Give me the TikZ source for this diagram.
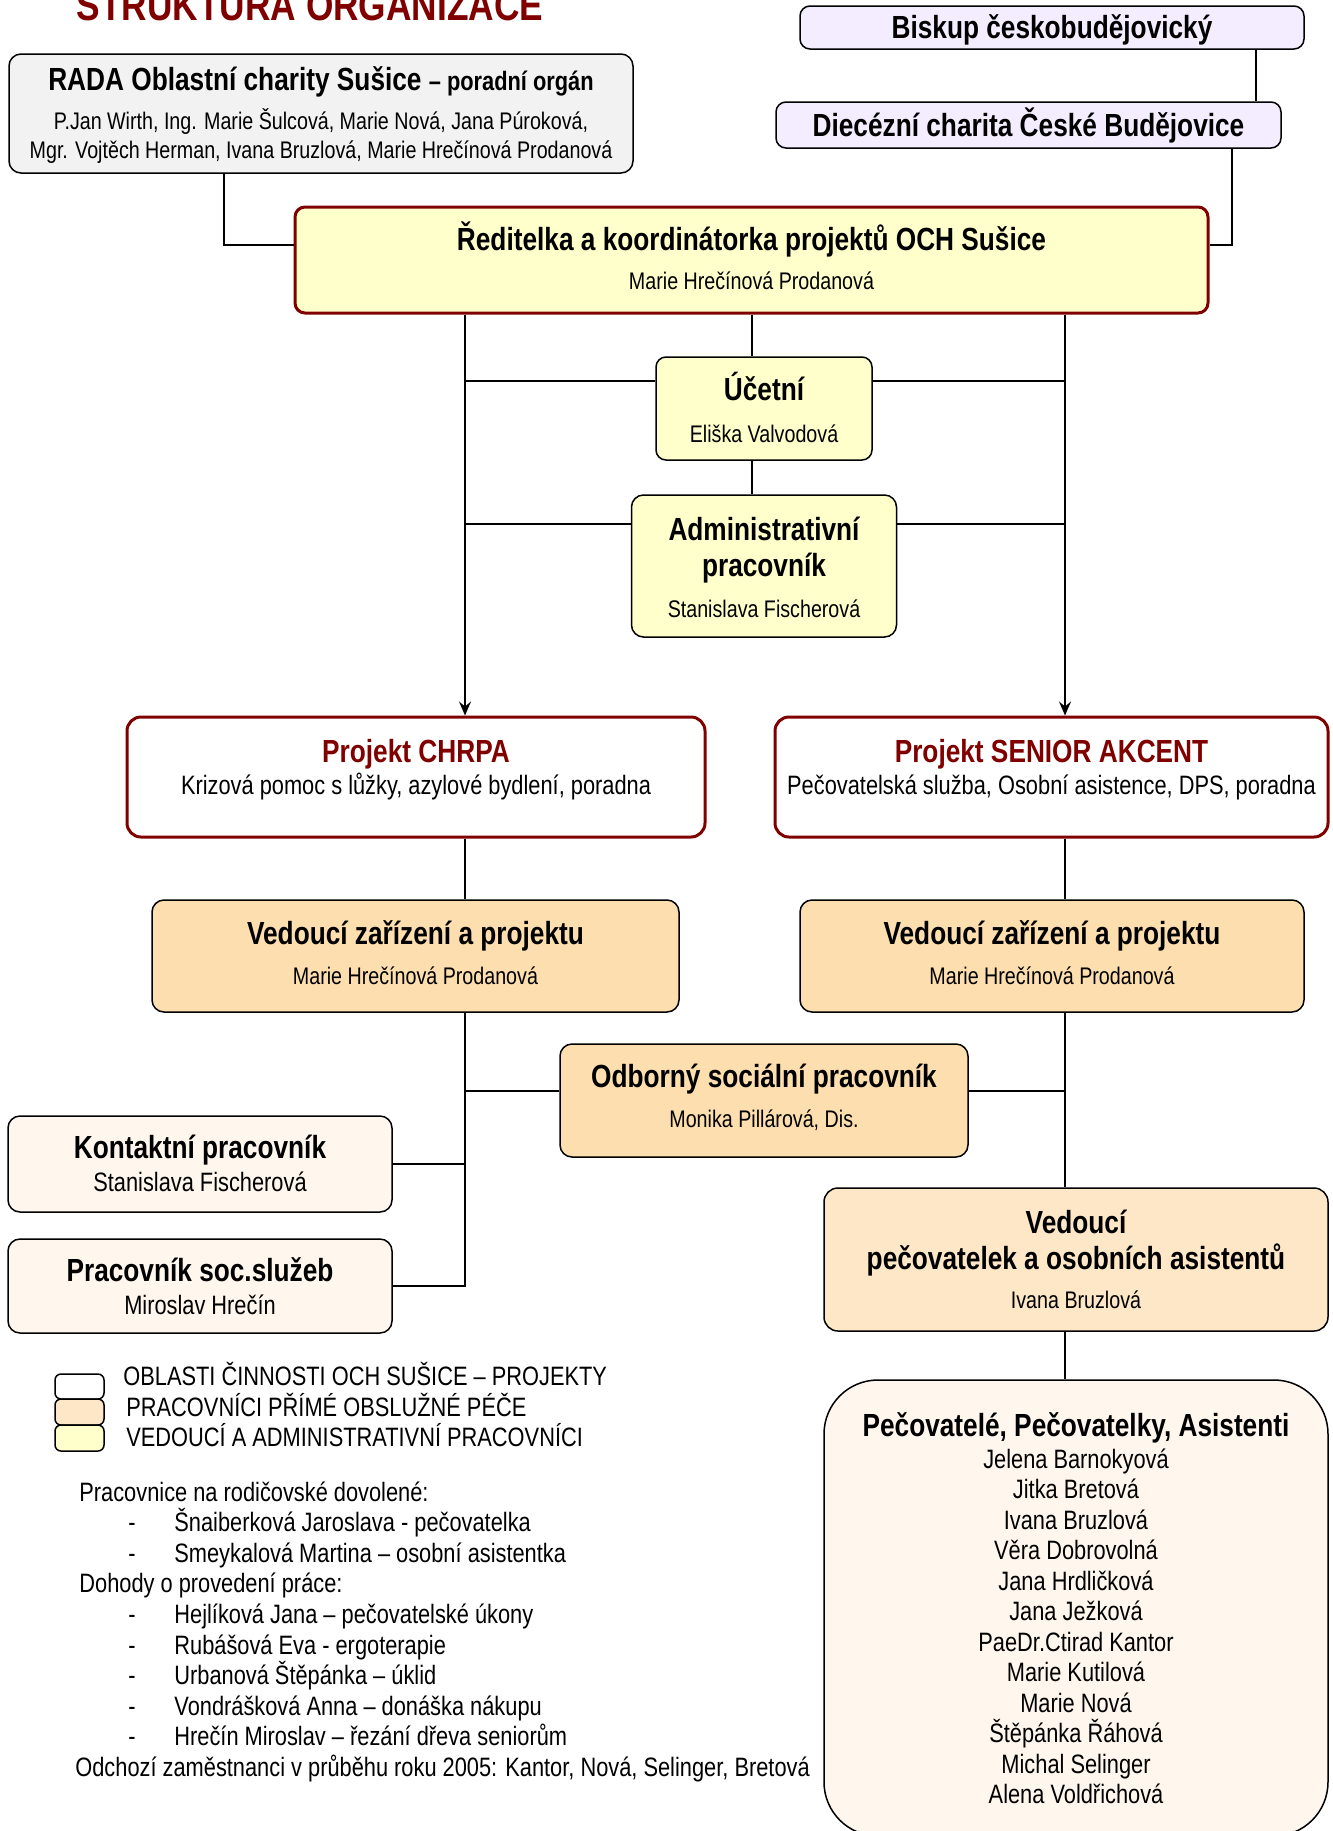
\documentclass[tikz,border=0pt]{standalone}
\usepackage{fontspec}
\setmainfont{Liberation Sans}[FakeStretch=0.82]
\usepackage[rgb]{xcolor}
\usepackage{tikz}
\usetikzlibrary{arrows.meta}

\definecolor{chred}{RGB}{128,0,0}
\definecolor{chyellow}{RGB}{255,255,204}
\definecolor{chpeach}{RGB}{253,222,175}
\definecolor{chpeachlt}{RGB}{254,231,198}
\definecolor{chcream}{RGB}{255,247,237}
\definecolor{chgray}{RGB}{242,242,242}
\definecolor{chlilac}{RGB}{243,237,255}

\begin{document}
\begin{tikzpicture}[x=0.5pt, y=-0.5pt, >={Stealth[length=7pt, width=6pt, inset=2.5pt]},
  box/.style={draw, rounded corners=5pt, line width=0.75pt, inner sep=0pt},
  redbox/.style={box, draw=chred, line width=1.5pt},
  headtxt/.style={anchor=base, inner sep=0pt, font=\fontsize{16}{19}\selectfont\bfseries},
  subtxt/.style={anchor=base, inner sep=0pt, font=\fontsize{13.3}{15}\selectfont},
  nametxt/.style={anchor=base, inner sep=0pt, font=\fontsize{12}{14}\selectfont},
  conn/.style={line width=0.75pt}]

\useasboundingbox (0,0) rectangle (1333,1831);

\node[anchor=base, text=chred, font=\fontsize{21.5}{24}\selectfont\bfseries] (title) at (310,20) {STRUKTURA ORGANIZACE};

%% boxes
\path
(1052,27.5) node[box, fill=chlilac, minimum width=252pt, minimum height=21.5pt] (biskup) {}
(1028.5,125) node[box, fill=chlilac, minimum width=252.5pt, minimum height=23pt] (diecezni) {}
(321,113.5) node[box, fill=chgray, rounded corners=6pt, minimum width=312pt, minimum height=59.5pt] (rada) {}
(751.5,260) node[redbox, fill=chyellow, minimum width=456.5pt, minimum height=53pt] (reditelka) {}
(764,408.5) node[box, fill=chyellow, minimum width=108pt, minimum height=51.5pt] (ucetni) {}
(764,566) node[box, fill=chyellow, rounded corners=6pt, minimum width=132.5pt, minimum height=71pt] (admin) {}
(416,777) node[redbox, fill=white, rounded corners=7pt, minimum width=289pt, minimum height=60pt] (chrpa) {}
(1051.5,777) node[redbox, fill=white, rounded corners=7pt, minimum width=276.5pt, minimum height=60pt] (senior) {}
(415.5,956) node[box, fill=chpeach, rounded corners=6pt, minimum width=263.5pt, minimum height=56pt] (vedL) {}
(1052,956) node[box, fill=chpeach, rounded corners=6pt, minimum width=252pt, minimum height=56pt] (vedR) {}
(764,1100.5) node[box, fill=chpeach, rounded corners=6pt, minimum width=204pt, minimum height=56.5pt] (odborny) {}
(200,1164) node[box, fill=chcream, rounded corners=6pt, minimum width=192pt, minimum height=48pt] (kontakt) {}
(200,1286) node[box, fill=chcream, rounded corners=6pt, minimum width=192pt, minimum height=47pt] (pracovnik) {}
(1076,1259.5) node[box, fill=chpeachlt, rounded corners=7pt, minimum width=252pt, minimum height=71.5pt] (vedpec) {}
(1076,1608) node[box, fill=chcream, rounded corners=27pt, minimum width=252pt, minimum height=228pt] (pecov) {};

%% texts
\node[headtxt] (biskupT) at (1052,39) {Biskup českobudějovický};
\node[headtxt] (diecT) at (1028.5,136) {Diecézní charita České Budějovice};
\node[headtxt] (radaT) at (321,90) {RADA Oblastní charity Sušice {\fontsize{13.3}{15}\selectfont – poradní orgán}};
\node[nametxt] (radaN1) at (321,129) {P.Jan Wirth, Ing. Marie Šulcová, Marie Nová, Jana Púroková,};
\node[nametxt] (radaN2) at (321,158) {Mgr. Vojtěch Herman, Ivana Bruzlová, Marie Hrečínová Prodanová};
\node[headtxt] (reditT) at (751.5,250) {Ředitelka a koordinátorka projektů OCH Sušice};
\node[nametxt] (reditN) at (751.5,289) {Marie Hrečínová Prodanová};
\node[headtxt] (ucetniT) at (764,400) {Účetní};
\node[nametxt] (ucetniN) at (764,442) {Eliška Valvodová};
\node[headtxt] (adminT1) at (764,540) {Administrativní};
\node[headtxt] (adminT2) at (764,576) {pracovník};
\node[nametxt] (adminN) at (764,617) {Stanislava Fischerová};
\node[headtxt, text=chred] (chrpaT) at (416,762) {Projekt CHRPA};
\node[subtxt] (chrpaS) at (416,794) {Krizová pomoc s lůžky, azylové bydlení, poradna};
\node[headtxt, text=chred] (seniorT) at (1051.5,762) {Projekt SENIOR AKCENT};
\node[subtxt] (seniorS) at (1051.5,794) {Pečovatelská služba, Osobní asistence, DPS, poradna};
\node[headtxt] (vedLT) at (415.5,944) {Vedoucí zařízení a projektu};
\node[nametxt] (vedLN) at (415.5,984) {Marie Hrečínová Prodanová};
\node[headtxt] (vedRT) at (1052,944) {Vedoucí zařízení a projektu};
\node[nametxt] (vedRN) at (1052,984) {Marie Hrečínová Prodanová};
\node[headtxt] (odbT) at (764,1087) {Odborný sociální pracovník};
\node[nametxt] (odbN) at (764,1127) {Monika Pillárová, Dis.};
\node[headtxt] (kontaktT) at (200,1158) {Kontaktní pracovník};
\node[subtxt] (kontaktN) at (200,1191) {Stanislava Fischerová};
\node[headtxt] (pracT) at (200,1281) {Pracovník soc.služeb};
\node[subtxt] (pracN) at (200,1314) {Miroslav Hrečín};
\node[headtxt] (vedpecT1) at (1076,1233) {Vedoucí};
\node[headtxt] (vedpecT2) at (1076,1269) {pečovatelek a osobních asistentů};
\node[nametxt] (vedpecN) at (1076,1308) {Ivana Bruzlová};
\node[headtxt] (pecovT) at (1076,1436) {Pečovatelé, Pečovatelky, Asistenti};
\foreach \n [count=\i from 0] in {Jelena Barnokyová, Jitka Bretová, Ivana Bruzlová, Věra Dobrovolná,
    Jana Hrdličková, Jana Ježková, PaeDr.Ctirad Kantor, Marie Kutilová, Marie Nová,
    Štěpánka Řáhová, Michal Selinger, Alena Voldřichová}
  \node[subtxt] (pec\i) at (1076,{1468+30.5*\i}) {\n};

%% connectors
\coordinate (colRada) at (224,0);
\coordinate (colL) at (465,0);
\coordinate (colM) at (752,0);
\coordinate (colR) at (1065,0);
\coordinate (colD) at (1232,0);
\coordinate (colB) at (1256,0);
\coordinate (rowTop) at (0,245);
\coordinate (rowUc) at (0,381);
\coordinate (rowAdm) at (0,524);
\coordinate (rowOdb) at (0,1091);

\draw[conn] (biskup.south -| colB) -- (diecezni.north -| colB);
\draw[conn] (diecezni.south -| colD) |- (reditelka.east |- rowTop);
\draw[conn] (rada.south -| colRada) |- (reditelka.west |- rowTop);
\draw[conn, ->] (reditelka.south -| colL) -- (chrpa.north -| colL);
\draw[conn, ->] (reditelka.south -| colR) -- (senior.north -| colR);
\draw[conn] (reditelka.south -| colM) -- (ucetni.north -| colM);
\draw[conn] (ucetni.south -| colM) -- (admin.north -| colM);
\draw[conn] (colL |- rowUc) -- (ucetni.west |- rowUc);
\draw[conn] (ucetni.east |- rowUc) -- (colR |- rowUc);
\draw[conn] (colL |- rowAdm) -- (admin.west |- rowAdm);
\draw[conn] (admin.east |- rowAdm) -- (colR |- rowAdm);
\draw[conn] (chrpa.south -| colL) -- (vedL.north -| colL);
\draw[conn] (senior.south -| colR) -- (vedR.north -| colR);
\draw[conn] (vedL.south -| colL) |- (pracovnik.east);
\draw[conn] (kontakt.east) -- (kontakt.east -| colL);
\draw[conn] (colL |- rowOdb) -- (odborny.west |- rowOdb);
\draw[conn] (odborny.east |- rowOdb) -- (colR |- rowOdb);
\draw[conn] (vedR.south -| colR) -- (vedpec.north -| colR);
\draw[conn] (vedpec.south -| colR) -- (pecov.north -| colR);

%% legend
\path
(79.5,1386.5) node[box, rounded corners=3pt, fill=white, minimum width=24.5pt, minimum height=12.5pt] (legA) {}
(79.5,1412) node[box, rounded corners=3pt, fill=chpeachlt, minimum width=24.5pt, minimum height=13pt] (legB) {}
(79.5,1438) node[box, rounded corners=3pt, fill=chyellow, minimum width=24.5pt, minimum height=13pt] (legC) {};
\node[subtxt, anchor=base west] (legAT) at (123,1385.5) {OBLASTI ČINNOSTI OCH SUŠICE – PROJEKTY};
\node[subtxt, anchor=base west] (legBT) at (126,1416.5) {PRACOVNÍCI PŘÍMÉ OBSLUŽNÉ PÉČE};
\node[subtxt, anchor=base west] (legCT) at (126,1446.5) {VEDOUCÍ A ADMINISTRATIVNÍ PRACOVNÍCI};

%% notes
\node[subtxt, anchor=base west] (noteA) at (79,1501) {Pracovnice na rodičovské dovolené:};
\node[subtxt, anchor=base west] (noteB) at (79,1592.8) {Dohody o provedení práce:};
\node[subtxt, anchor=base west] (noteC) at (75,1776.4) {Odchozí zaměstnanci v průběhu roku 2005: Kantor, Nová, Selinger, Bretová};
\foreach \t/\k in {Šnaiberková Jaroslava - pečovatelka/1, Smeykalová Martina – osobní asistentka/2,
    Hejlíková Jana – pečovatelské úkony/4, Rubášová Eva - ergoterapie/5, Urbanová Štěpánka – úklid/6,
    Vondrášková Anna – donáška nákupu/7, Hrečín Miroslav – řezání dřeva seniorům/8}
  {
  \node[subtxt, anchor=base west] (dash\k) at (128,{1501+30.6*\k}) {-};
  \node[subtxt, anchor=base west] (item\k) at (174,{1501+30.6*\k}) {\t};
  }

\end{tikzpicture}
\end{document}
